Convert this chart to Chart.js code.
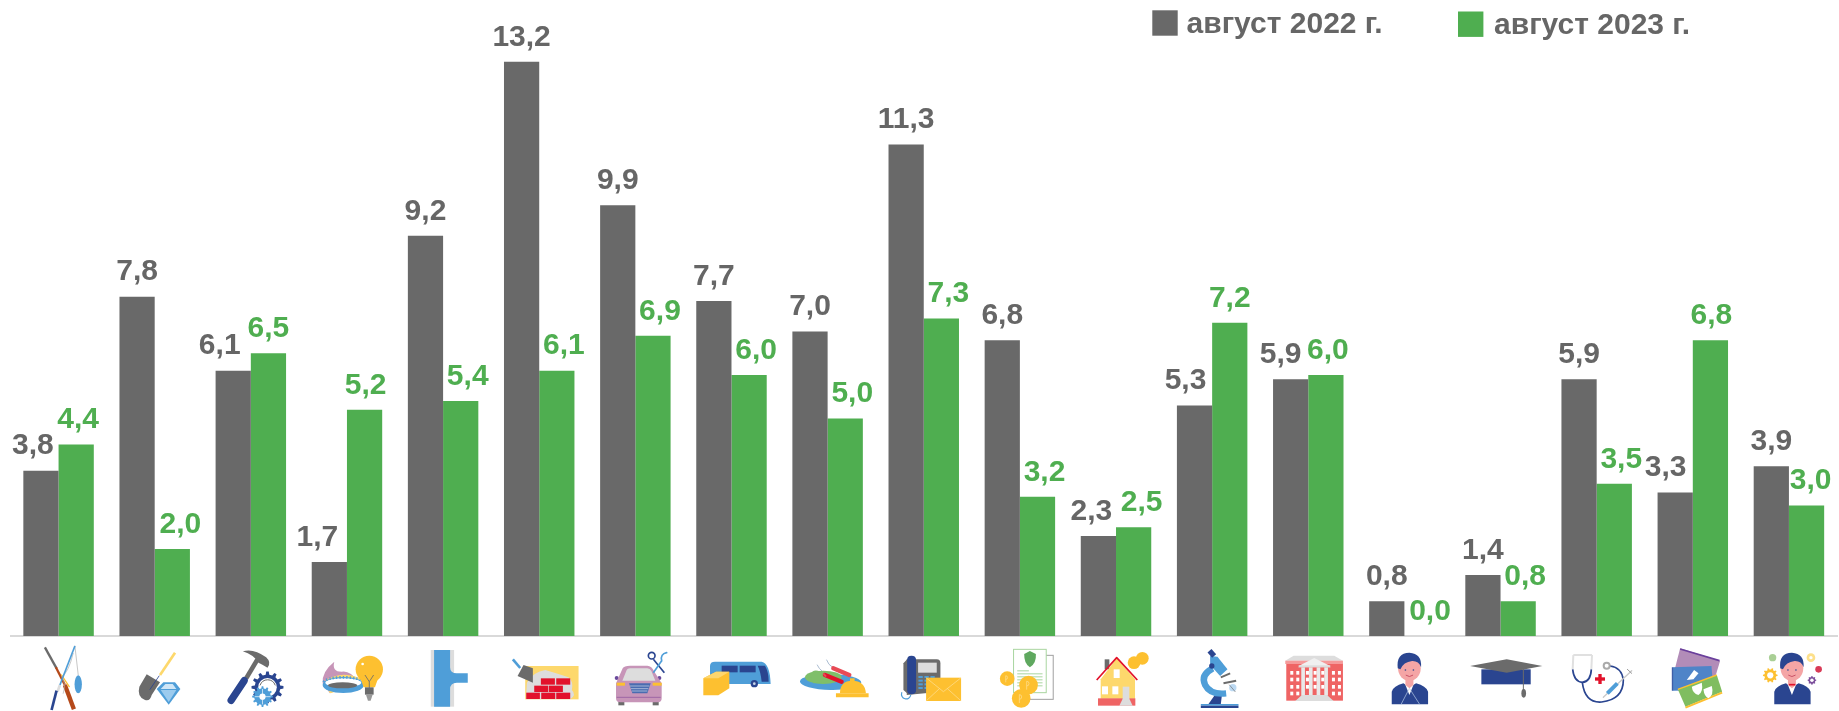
<!DOCTYPE html>
<html lang="ru">
<head>
<meta charset="utf-8">
<style>html,body{margin:0;padding:0;background:#fff}canvas{display:block}</style>
<script src="https://cdn.jsdelivr.net/npm/chart.js@4/dist/chart.umd.min.js"></script>
</head>
<body>
<canvas id="c" width="1839" height="711"></canvas>
<script>
const categories = ['Сельское хозяйство','Добыча','Обрабатывающие производства','Энергоснабжение','Водоснабжение','Строительство','Торговля и ремонт','Транспорт','Гостиницы и питание','Связь','Финансы','Недвижимость','Наука','Госуправление','Администрирование','Образование','Здравоохранение','Культура','Прочие услуги'];
const series2022 = [3.8,7.8,6.1,1.7,9.2,13.2,9.9,7.7,7.0,11.3,6.8,2.3,5.3,5.9,0.8,1.4,5.9,3.3,3.9];
const series2023 = [4.4,2.0,6.5,5.2,5.4,6.1,6.9,6.0,5.0,7.3,3.2,2.5,7.2,6.0,0.0,0.8,3.5,6.8,3.0];
const seriesNames = ['август 2022 г.','август 2023 г.'];
const GREY='#696969', GREEN='#4fae50', TEXT='#666666';
const labelShift2022 = [-8,0,-13.5,-12,0,0,0,0,0,0,0,-7,-9,-10,0,0,0,-9.5,0];
const labelShift2023 = [2,8,0,1,7,7,7,7,7,7,7,8,0,2,8,7,7,1,4];

const NAVY='#2a4590',BLUE='#4f9ed8',YEL='#fdc030',LY='#fdd86c',DG='#6b6b6b',LG='#dddddd',MAU='#c795b8',RED='#e2122b',PINK='#f4a5a5',COR='#ef6464',GRN='#7fbf6a';
function tools(ctx){
  const F=(c,d)=>{ctx.fillStyle=c;ctx.fill(new Path2D(d));};
  const S=(c,w,d,cap)=>{ctx.strokeStyle=c;ctx.lineWidth=w;ctx.lineCap=cap||'round';ctx.lineJoin='round';ctx.stroke(new Path2D(d));};
  const R=(c,x,y,w,h)=>{ctx.fillStyle=c;ctx.fillRect(x,y,w,h);};
  const C=(c,x,y,r)=>{ctx.fillStyle=c;ctx.beginPath();ctx.arc(x,y,r,0,Math.PI*2);ctx.fill();};
  const E=(c,x,y,rx,ry,a)=>{ctx.fillStyle=c;ctx.beginPath();ctx.ellipse(x,y,rx,ry,a||0,0,Math.PI*2);ctx.fill();};
  const G=(c,x,y,r,n,hole)=>{ctx.fillStyle=c;ctx.beginPath();
    for(let i=0;i<n;i++){const a=i/n*Math.PI*2,s=Math.PI/n*.5;
      [[a-s*1.1,r*.8],[a-s*.6,r],[a+s*.6,r],[a+s*1.1,r*.8]].forEach(p=>ctx.lineTo(x+Math.cos(p[0])*p[1],y+Math.sin(p[0])*p[1]));}
    ctx.closePath();ctx.fill();C('#fff',x,y,r*(hole||.45));};
  return {F,S,R,C,E,G};
}
function person(t,x){
  const {F,S,C,E}=t;
  F(NAVY,`M${x-53},193 L${x-53},155 Q${x-48},138 ${x-18},130 L${x},142 L${x+20},130 Q${x+50},138 ${x+56},155 L${x+56},193Z`);
  F('#ffffff',`M${x-14},130 L${x+14},130 L${x},165Z`);
  F(PINK,`M${x-12},112 L${x+12},112 L${x+12},135 L${x},145 L${x-12},135Z`);
  E(PINK,x,85,34,38);
  F(NAVY,`M${x-35},85 Q${x-40},38 ${x},38 Q${x+38},40 ${x+35},82 Q${x+28},62 ${x+8},63 Q${x-18},66 ${x-27},88Z`);
  C(NAVY,x-12,90,2.5);C(NAVY,x+12,90,2.5);S('#c0405a',2.5,`M${x-10},106 Q${x},114 ${x+10},106`);
}
const icons = [
 // 0 fishing & hunting
 {a:146,d(t){const {S,E}=t;
  S(DG,7,'M105,22 L140,85','butt');S('#b5491a',7,'M138,82 L165,135','butt');S('#b5491a',13,'M165,135 L192,208','butt');S(YEL,4,'M155,105 L178,140');
  S('#aaaaaa',2,'M195,18 L205,105');S('#aaaaaa',2,'M190,40 Q175,100 155,110 Q170,130 160,160');
  S(BLUE,5,'M195,18 L150,135','butt');S(LG,8,'M150,135 L143,155','butt');S(NAVY,8,'M140,152 L125,210','butt');
  E(BLUE,205,133,11,27);}},
 // 1 mining
 {a:434,d(t){const {F,S}=t;
  S(LY,8,'M495,38 L450,105','butt');
  F(DG,'M410,103 L450,127 L440,142 L425,165 Q420,185 405,180 Q380,170 388,140Z');S(NAVY,2.5,'M447,108 L420,148');
  F(BLUE,'M440,147 L460,127 L495,127 L511,147 L476,194Z');F('#cfe6f7','M452,147 L466,132 L488,132 L499,147Z');F('#9ccbee','M452,150 L499,150 L476,186Z');}},
 // 2 manufacturing
 {a:722,d(t){const {F,S,G}=t;
  S(DG,14,'M708,115 L742,58','butt');S(NAVY,22,'M663,181 L702,122');
  F(DG,'M698,34 Q730,24 768,52 Q785,68 772,83 Q755,72 745,68 Q730,44 698,34Z');
  G(NAVY,772,142,48,12,.58);S(DG,3,'M750,135 A24,24 0 0 1 795,135');G(BLUE,757,170,31,12,.3);S('#ffffff',2,'M735,170 L780,170 M757,148 L757,192');}},
 // 3 energy
 {a:111,d(t){const {F,S,E,C,R}=t;
  F(MAU,'M73,65 Q35,95 38,130 L60,160 L145,125 Q120,90 95,95 Q65,95 73,65Z');
  F(LY,'M42,125 Q90,90 150,115 L150,135 L60,160Z');
  E(BLUE,100,135,62,24);E('#ffffff',100,128,54,13);
  ctx_dash(t,BLUE);E(DG,98,136,44,9);
  C(YEL,178,88,41);F(YEL,'M150,110 L206,110 L195,142 L161,142Z');
  C('#ffffff',158,72,4);S(DG,2.5,'M165,105 L178,125 L191,105 M178,125 L178,145','butt');
  R(DG,165,142,26,22);F('#999999','M168,164 L188,164 L182,182 L174,182Z');}},
 // 4 water
 {a:399,d(t){const {F,R}=t;
  R(LG,362,30,70,170);F(BLUE,'M372,30 L420,30 L420,82 Q420,100 440,100 L473,100 L473,128 L440,128 Q420,128 420,148 L420,200 L372,200Z');}},
 // 5 construction
 {a:687,d(t){const {F,S,R}=t;
  R(LY,645,78,160,100);
  F(LG,'M650,128 Q670,95 705,90 Q740,100 775,112 Q790,125 785,150 Q800,165 780,178 L647,178Z');
  const brick=(x,y,w)=>R(RED,x,y,w,19);
  brick(692,115,42);brick(738,115,42);brick(672,137,42);brick(716,137,42);brick(648,158,41);brick(693,158,42);brick(738,158,42);
  S(BLUE,8,'M608,58 L630,84','butt');F(DG,'M640,75 L668,85 L668,128 L622,108Z');}},
 // 6 trade & repair
 {a:76,d(t){const {F,S,R,C}=t;
  C('#6a4a9c',20,114,6);C('#6a4a9c',148,114,6);
  R(DG,25,183,18,13);R(DG,128,183,18,13);
  F(MAU,'M18,130 L38,85 Q42,77 60,77 L112,77 Q125,77 133,95 L155,130 L155,175 Q155,187 143,187 L30,187 Q18,187 18,175Z');
  F(LG,'M37,122 L50,90 Q52,85 60,85 L112,85 Q120,85 124,93 L136,122Z');
  F(YEL,'M20,128 L45,128 L45,137 L20,137Z');F(YEL,'M128,128 L155,128 L155,137 L128,137Z');
  F('#4a6cb0','M57,130 L122,130 L112,160 L67,160Z');S('#ffffff',1.5,'M60,138 L118,138 M63,146 L115,146 M66,153 L112,153','butt');
  S('#8a4f9c',2,'M20,172 L152,172','butt');
  S(NAVY,5,'M130,58 L163,98','butt');S(BLUE,5,'M130,98 L155,62','butt');
  ctxRing(t,125,47,10,NAVY);S(BLUE,5,'M155,62 Q150,42 170,38');}},
 // 7 transport
 {a:364.5,d(t){const {F,S,C,R}=t;
  F(BLUE,'M300,78 Q300,65 315,65 L455,65 Q480,70 482,132 L320,132 Q300,132 300,118Z');
  R(NAVY,335,77,48,20);R(NAVY,389,77,48,20);F(NAVY,'M443,77 L465,77 Q476,95 476,125 L455,125 Q452,95 443,77Z');
  C(NAVY,433,131,11);C('#c9d5e8',433,131,4);
  F(YEL,'M280,115 L318,95 L358,95 L358,145 L325,166 L280,166Z');F('#fdd66e','M280,115 L318,95 L358,95 L325,115Z');}},
 // 8 hospitality
 {a:653,d(t){const {F,S,E,R}=t;
  E(BLUE,662,126,92,24,.02);E(GRN,640,112,55,20);F(GRN,'M600,105 Q610,85 630,95 L655,125 L610,130Z');
  S('#9ab0c8',2.5,'M622,75 Q628,88 635,92');S('#9ab0c8',2.5,'M650,60 Q655,75 668,82');
  S(RED,13,'M645,105 L695,125');S('#e84a55',13,'M670,85 L718,105');S('#e84a55',6,'M640,100 L648,110','butt');
  F(YEL,'M690,160 Q690,122 727,122 Q765,122 768,160Z');F(YEL,'M678,160 L776,160 L776,172 L678,172Z');F(YEL,'M720,115 h14 v10 h-14Z');}},
 // 9 communications
 {a:101,d(t){const {F,S,R}=t;
  S(BLUE,3.5,'M35,158 A14,14 0 1 0 62,165');
  F(DG,'M50,58 L140,58 Q151,58 151,70 L151,155 L50,165Z');F(NAVY,'M51,60 Q51,47 64,47 Q78,47 78,60 L78,150 Q78,163 64,163 Q51,163 51,150Z');F(DG,'M40,70 L51,58 L51,160 L40,150Z');
  R(LG,84,68,56,30);
  for(let r=0;r<4;r++)for(let k=0;k<3;k++)R(BLUE,85+k*18,108+r*11,13,6);
  R(YEL,108,113,105,70);S('#fde19a',2,'M109,114 L160,155 L212,114 M109,182 L148,146 M212,182 L172,146','butt');}},
 // 10 finance
 {a:390,d(t){const {F,S,R,C}=t;
  R('#ffffff',402,46,88,132);ctxBox(t,402,46,88,132,'#a0a0a0');
  R('#ffffff',371,28,98,130);ctxBox(t,371,28,98,130,'#a9d6a0');
  F('#5fa85f','M420,33 L438,42 Q440,70 420,82 Q402,70 403,42Z');
  for(let i=0;i<6;i++)R('#a9d6a0',382,91+i*9,i==0?35:76,3);
  const coin=(x,y,r)=>{C(YEL,x,y,r);S('#fde19a',2,`M${x-r*.2},${y+r*.5} L${x-r*.2},${y-r*.4} A${r*.25},${r*.25} 0 0 1 ${x-r*.2},${y+r*.1}`,'butt');};
  coin(352,116,22);coin(416,135,28);coin(394,175,28);}},
 // 11 real estate
 {a:678,d(t){const {F,S,R,C}=t;
  R(DG,644,58,14,30);
  F(LY,'M680,55 L735,118 L735,176 L632,176 L632,118Z');
  S(RED,5,'M620,120 L680,53 L742,120','butt');
  R(COR,624,175,112,22);
  R('#ffffff',671,88,18,26);R('#ffffff',636,139,18,24);R('#ffffff',667,139,18,24);
  R(LG,698,140,20,37);F(LG,'M698,176 L718,176 L728,197 L688,197Z');
  C(YEL,757,55,19);C(YEL,732,68,19);}},
 // 12 science
 {a:66,d(t){const {F,S,R,C}=t;
  R(BLUE,32,192,113,5);R(NAVY,32,197,113,7);
  F(NAVY,'M55,192 L72,168 L95,168 L92,192Z');
  S(BLUE,19,'M68,85 Q30,105 45,135 Q60,165 108,160','butt');
  F(BLUE,'M60,48 L82,50 L112,88 L90,108 L60,75Z');
  S(NAVY,16,'M58,32 L72,48','butt');C(NAVY,65,78,8);
  S(DG,6,'M92,112 L120,100','butt');S(DG,6,'M100,130 L138,122','butt');
  C('#bcd9f2',128,143,11);S(DG,2,'M118,135 L135,155');}},
 // 13 public administration
 {a:354,d(t){const {F,S,R}=t;
  R(COR,288,70,170,112);
  F(LG,'M285,62 L310,47 L432,47 L458,62Z');R('#f59a9a',285,62,173,10);
  F('#f0f0f0','M325,78 L372,54 L420,78Z');R(LG,325,76,95,7);
  R(COR,326,83,93,84);
  for(const x of [333,356,379,402])R('#e9e9e9',x,82,11,85);
  F(LG,'M315,183 L335,165 L410,165 L430,183Z');
  const win=(xs,ys)=>xs.forEach(x=>ys.forEach(y=>R('#ffffff',x,y,9,11)));
  win([300,318,425,443],[93,113,135,155]);win([347,370,393],[93,113,135]);}},
 // 14 administrative
 {a:643,d(t){person(t,658);t.S('#bcd0ea',2,'M658,145 L632,195 M658,145 L690,195','butt');}},
 // 15 education
 {a:31.5,d(t){const {F,S,R,E}=t;
  R(NAVY,-26,88,148,45);
  F(DG,'M-60,78 L50,58 L157,78 L50,98Z');
  S(DG,3,'M100,85 L100,150','butt');E(DG,101,160,7,13);}},
 // 16 health
 {a:320,d(t){const {F,S,R,C}=t;
  S('#e0e0e0',6,'M250,45 L248,88 M306,45 L304,88 M250,45 L306,45','butt');
  S(NAVY,5,'M248,88 Q252,125 277,127 Q302,125 304,88','butt');
  S(NAVY,5,'M277,128 Q285,190 335,186 Q400,178 400,120 Q395,82 360,78');
  C('#aaaaaa',350,77,12);C('#ffffff',350,77,6);
  R(RED,325,102,10,30);R(RED,315,112,30,10);
  S('#c9c9c9',4,'M425,92 L340,172');S(BLUE,12,'M382,130 L352,160','butt');S('#999999',3,'M412,88 L425,100');}},
 // 17 culture
 {a:608,d(t){const {F,S}=t;
  F('#b28cb8','M570,25 L690,62 L668,135 L552,95Z');S('#6a3f9c',5,'M570,27 L688,62','butt');
  F('#4f84c8','M547,82 L664,78 L670,150 L547,152Z');S('#3f5fa8',4,'M547,82 L547,152','butt');
  F('#ffffff','M590,120 L612,90 L625,100 L610,118Z');
  F('#80bd60','M563,148 L680,105 L696,155 L586,200Z');S('#fdc030',6,'M586,203 L696,158','butt');S('#fdc030',4,'M563,148 L680,105','butt');
  F('#ffffff','M605,140 L635,128 Q640,155 625,165 Q607,160 605,140Z');F('#ffffff','M640,148 L665,138 Q672,165 655,175 Q642,170 640,148Z');}},
 // 18 other services
 {a:897,d(t){const {C,G,S}=t;
  person(t,906);
  S(RED,5,'M897,134 L916,134','butt');
  G(YEL,841,106,22,10,.42);G('#7c4f9c',966,121,13,8,.4);
  C('#d93a56',986,88,10);C('#a9cf95',848,53,11);C('#fde08a',963,53,13);C('#ffffff',963,53,5);}}
];
let iconCtx=null;
function ctx_dash(t,c){iconCtx.save();iconCtx.strokeStyle=c;iconCtx.lineWidth=8;iconCtx.setLineDash([4,6]);iconCtx.beginPath();iconCtx.ellipse(100,126,58,14,0,Math.PI,Math.PI*2);iconCtx.stroke();iconCtx.restore();}
function ctxRing(t,x,y,r,c){iconCtx.strokeStyle=c;iconCtx.lineWidth=5;iconCtx.beginPath();iconCtx.arc(x,y,r,0,Math.PI*2);iconCtx.stroke();}
function ctxBox(t,x,y,w,h,c){iconCtx.strokeStyle=c;iconCtx.lineWidth=3;iconCtx.strokeRect(x,y,w,h);}

const iconPlugin={id:'icons',afterDraw(chart){
  const ctx=chart.ctx,xs=chart.scales.x;iconCtx=ctx;const t=tools(ctx);
  icons.forEach((ic,i)=>{ctx.save();ctx.translate(xs.getPixelForValue(i),640);ctx.scale(1/3,1/3);ctx.translate(-ic.a,0);ic.d(t);ctx.restore();});
}};
const shifts=[labelShift2022,labelShift2023], labelColors=[TEXT,GREEN];
const labelPlugin={id:'valueLabels',afterDatasetsDraw(chart){
  const ctx=chart.ctx;ctx.save();ctx.font='bold 30px "Liberation Sans", Arial, sans-serif';ctx.textAlign='center';ctx.textBaseline='middle';
  chart.data.datasets.forEach((ds,k)=>{chart.getDatasetMeta(k).data.forEach((bar,i)=>{
    ctx.fillStyle=labelColors[k];
    ctx.fillText(ds.data[i].toFixed(1).replace('.',','),bar.x+shifts[k][i],bar.y-24.5);
  });});ctx.restore();
}};
const legendPlugin={id:'topLegend',afterDraw(chart){
  const ctx=chart.ctx;ctx.save();ctx.font='bold 30px "Liberation Sans", Arial, sans-serif';ctx.textBaseline='alphabetic';
  [[1152.3,10.3,1186.5,32.5],[1458,11.5,1494,33.5]].forEach((p,k)=>{
    ctx.fillStyle=chart.data.datasets[k].backgroundColor;ctx.fillRect(p[0],p[1],25.4,25.4);
    ctx.fillStyle=TEXT;ctx.fillText(seriesNames[k],p[2],p[3]);
  });ctx.restore();
}};
new Chart(document.getElementById('c'),{
  type:'bar',
  data:{labels:categories,datasets:[
    {label:seriesNames[0],data:series2022,backgroundColor:GREY,borderWidth:0,barPercentage:1,categoryPercentage:.733},
    {label:seriesNames[1],data:series2023,backgroundColor:GREEN,borderWidth:0,barPercentage:1,categoryPercentage:.733}
  ]},
  options:{responsive:false,animation:false,
    layout:{padding:{left:10.5,right:2,top:0,bottom:67}},
    plugins:{legend:{display:false},tooltip:{enabled:false}},
    scales:{
      x:{grid:{display:false},border:{color:'#d9d9d9',width:2},ticks:{display:false}},
      y:{display:false,min:0,max:14.62}
    }
  },
  plugins:[labelPlugin,legendPlugin,iconPlugin]
});
</script>
</body>
</html>
